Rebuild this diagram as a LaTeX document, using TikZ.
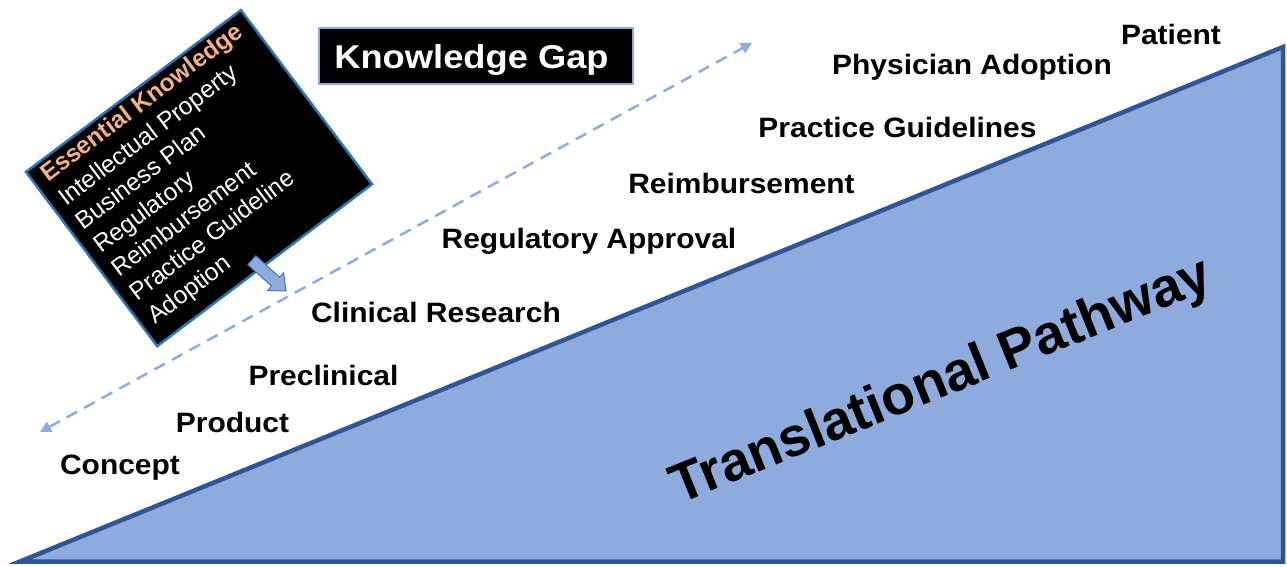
\documentclass[tikz,border=0pt]{standalone}
\usepackage{fontspec}
\setmainfont{Liberation Sans}
\newfontfamily\lblfont[FakeStretch=1.07]{Liberation Sans}
\newfontfamily\kgfont[FakeStretch=1.1]{Liberation Sans}
\usetikzlibrary{arrows.meta}
\definecolor{triFill}{HTML}{8FAADC}
\definecolor{triLine}{HTML}{2F5597}
\definecolor{boxLine}{HTML}{2E75B6}
\definecolor{peach}{HTML}{F4B183}
\definecolor{arrLine}{HTML}{4472C4}
\begin{document}
\begin{tikzpicture}[x=1pt,y=-1pt,
  lbl/.style={font=\lblfont\bfseries\fontsize{28}{32}\selectfont, anchor=base, inner sep=0pt, text=black},
  eklead/.style={font=\bfseries\fontsize{24.5}{28}\selectfont, anchor=base west, inner sep=0pt, text=peach, transform shape},
  ekline/.style={font=\fontsize{24.5}{28}\selectfont, anchor=base west, inner sep=0pt, text=white, transform shape},
  gapline/.style={draw=triFill, line width=2.5pt, dash pattern=on 12pt off 8pt,
     {Triangle[length=11pt,width=11pt]}-{Triangle[length=11pt,width=11pt]}},
  tri/.style={draw=triLine, fill=triFill, line width=4.5pt, line join=miter},
  ekbox/.style={draw=boxLine, fill=black, line width=2.5pt, minimum width=269pt, minimum height=218pt, inner sep=0pt, transform shape},
  kgbox/.style={draw=triFill, fill=black, line width=2pt, minimum width=314pt, minimum height=56pt, inner sep=0pt},
  blockarrow/.style={draw=arrLine, fill=triFill, line width=1pt, line join=miter}
]
\useasboundingbox (0,0) rectangle (1287,567);
\fill[white] (0,0) rectangle (1287,567);

% triangle (translational pathway)
\coordinate (tl) at (20,561.5);
\coordinate (br) at (1283,561.5);
\coordinate (tr) at (1283,47);
\draw[tri] (tl) -- (br) -- (tr) -- cycle;
\node[font=\bfseries\fontsize{55}{62}\selectfont, anchor=base, rotate=22, inner sep=0pt] (tp) at (947,396) {Translational Pathway};

% knowledge gap dashed arrow
\coordinate (ga) at (40,432);
\coordinate (gb) at (752,43);
\draw[gapline] (ga) -- (gb);

% knowledge gap box
\node[kgbox] (kgb) at (476,56.5) {};
\node[font=\kgfont\bfseries\fontsize{33}{38}\selectfont, text=white, anchor=base, inner sep=0pt] (kg) at (471.5,69) {Knowledge Gap};

% stage labels
\node[lbl] (patient) at (1171,45) {Patient};
\node[lbl] (physician) at (972,75) {Physician Adoption};
\node[lbl] (practice) at (897.5,138) {Practice Guidelines};
\node[lbl] (reimb) at (741.5,193) {Reimbursement};
\node[lbl] (regul) at (589,248) {Regulatory Approval};
\node[lbl] (clinical) at (436,322) {Clinical Research};
\node[lbl] (preclin) at (323.5,385) {Preclinical};
\node[lbl] (product) at (232.5,432) {Product};
\node[lbl] (concept) at (120,474) {Concept};

% essential knowledge box
\begin{scope}[shift={(26,172)}, rotate=37]
  \node[ekbox] (ekb) at (134.5,109) {};
  \node[eklead] (ek1) at (11,22) {Essential Knowledge};
  \node[ekline] (ek2) at (11,51.7) {Intellectual Property};
  \node[ekline] (ek3) at (11,81.3) {Business Plan};
  \node[ekline] (ek4) at (11,111) {Regulatory};
  \node[ekline] (ek5) at (11,140.7) {Reimbursement};
  \node[ekline] (ek6) at (11,170.3) {Practice Guideline};
  \node[ekline] (ek7) at (11,200) {Adoption};
\end{scope}

% small block arrow
\begin{scope}[shift={(286,291)}, rotate=-42]
  \draw[blockarrow] (0,0) -- (-14,12) -- (-14,6) -- (-46,6) -- (-46,-6) -- (-14,-6) -- (-14,-12) -- cycle;
\end{scope}
\end{tikzpicture}
\end{document}
